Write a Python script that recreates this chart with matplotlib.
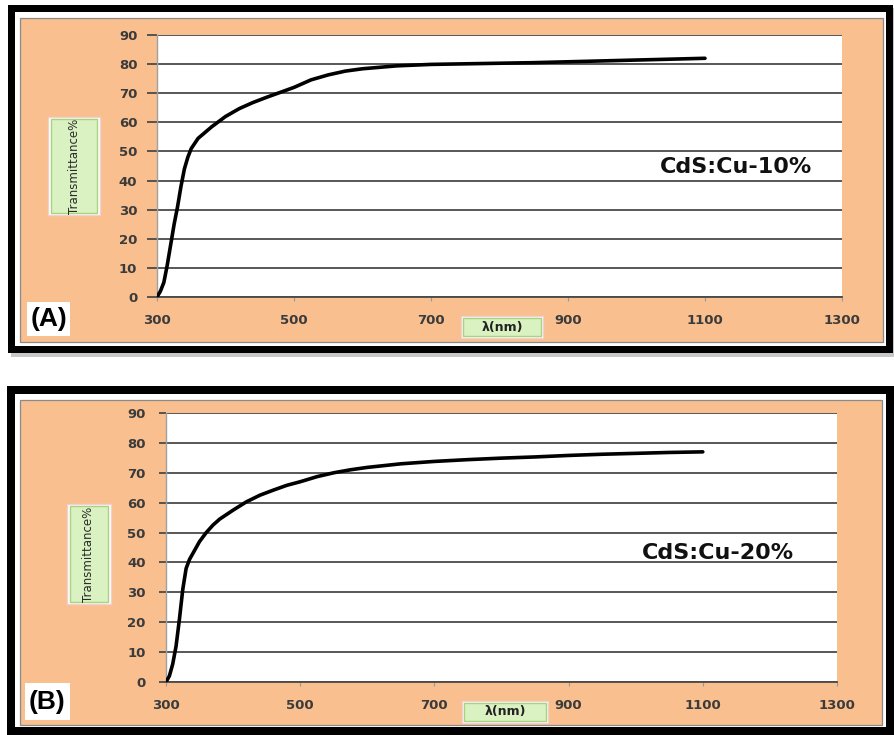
"""
Optical transmittance spectra of CdS:Cu thin films (10% and 20% Cu)
"""
import matplotlib
matplotlib.use('Agg')
import matplotlib.pyplot as plt
from matplotlib.patches import Rectangle

# Wavelength (nm) / transmittance (%) for CdS:Cu-10%
wl_a = [300, 305, 310, 315, 320, 325, 330, 335, 340, 345, 350, 360, 370, 380,
        400, 420, 440, 460, 480, 500, 525, 550, 575, 600, 650, 700, 750, 800,
        850, 900, 950, 1000, 1050, 1100]
tr_a = [0, 2, 5, 11, 18, 25, 31, 38, 44, 48, 51, 54.5, 56.5, 58.5,
        62, 64.7, 66.8, 68.6, 70.3, 72, 74.6, 76.3, 77.6, 78.4, 79.4, 79.9, 80.1, 80.3,
        80.5, 80.8, 81.1, 81.4, 81.7, 82]

# Wavelength (nm) / transmittance (%) for CdS:Cu-20%
wl_b = [300, 305, 310, 315, 320, 325, 330, 335, 340, 350, 360, 370, 380, 400,
        420, 440, 460, 480, 500, 525, 550, 575, 600, 650, 700, 750, 800, 850,
        900, 950, 1000, 1050, 1100]
tr_b = [0, 2, 6, 12, 21, 31, 38, 41, 43, 47, 50, 52.5, 54.5, 57.5,
        60.3, 62.5, 64.2, 65.8, 67, 68.7, 70, 71, 71.8, 73, 73.8, 74.4, 74.9, 75.3,
        75.8, 76.2, 76.5, 76.8, 77]

x_ticks = [300, 500, 700, 900, 1100, 1300]
y_ticks = [0, 10, 20, 30, 40, 50, 60, 70, 80, 90]
labels = ['CdS:Cu-10%', 'CdS:Cu-20%']
panel_tags = ['(A)', '(B)']

ORANGE = '#f9bf8f'
GRID = '#4a4a4a'
TICK_TXT = '#3b3b3b'

W, H = 894, 735
fig = plt.figure(figsize=(W / 100, H / 100), dpi=100)
fig.patch.set_facecolor('white')


def frect(x0, y0, x1, y1):
    """Pixel box (top-left origin) -> figure fraction rect"""
    return (x0 / W, 1 - y1 / H, (x1 - x0) / W, (y1 - y0) / H)


def add_box(x0, y0, x1, y1, **kw):
    l, b, w, h = frect(x0, y0, x1, y1)
    fig.add_artist(Rectangle((l, b), w, h, transform=fig.transFigure, **kw))


def draw_frame(outer, thick, inner):
    # frame sits below the axes (negative zorder)
    x0, y0, x1, y1 = outer
    add_box(x0 + 3, y0 + 3, x1 + 3, y1 + 4, facecolor='#c8c8c8', edgecolor='none', zorder=-4)
    add_box(x0, y0, x1, y1, facecolor='black', edgecolor='none', zorder=-3)
    add_box(x0 + thick, y0 + thick, x1 - thick, y1 - thick,
            facecolor='white', edgecolor='none', zorder=-2)
    add_box(*inner, facecolor=ORANGE, edgecolor='#8a8a8a', linewidth=0.9, zorder=-1)


def draw_panel(ax_box, wl, tr, label, tag, tick_len, tick_pad, ylab_box, xlab_box, tag_box, label_xy):
    ax = fig.add_axes(frect(*ax_box))
    ax.set_zorder(1)
    ax.set_facecolor('white')
    ax.plot(wl, tr, color='black', linewidth=2.6, solid_capstyle='round', zorder=3)

    ax.set_xlim(300, 1300)
    ax.set_ylim(0, 90)
    ax.set_xticks(x_ticks)
    ax.set_yticks(y_ticks)
    ax.yaxis.grid(True, color=GRID, linewidth=1.3)
    ax.set_axisbelow(True)

    for s in ['top', 'right']:
        ax.spines[s].set_visible(False)
    ax.spines['left'].set_color('#a0a0a0')
    ax.spines['left'].set_linewidth(1.0)
    ax.spines['bottom'].set_color(GRID)
    ax.spines['bottom'].set_linewidth(1.3)

    ax.tick_params(axis='y', direction='out', length=tick_len, width=1.3, color=GRID,
                   pad=tick_pad, labelsize=9.5, labelcolor=TICK_TXT)
    ax.tick_params(axis='x', direction='out', length=3, width=0.8, color='#9a9a9a',
                   pad=9, labelsize=9.5, labelcolor=TICK_TXT)
    for t in ax.get_xticklabels() + ax.get_yticklabels():
        t.set_fontweight('bold')

    ax.text(label_xy[0], label_xy[1], label, transform=ax.transAxes, ha='center', va='center',
            fontsize=16, fontweight='bold', color='#111111')

    # y-axis title box
    x0, y0, x1, y1 = ylab_box
    add_box(x0, y0, x1, y1, facecolor='white', edgecolor='#f1d0d0', linewidth=1, zorder=4)
    add_box(x0 + 3, y0 + 2, x1 - 3, y1 - 2, facecolor='#daf2c2', edgecolor='#a9d47f',
            linewidth=1, zorder=5)
    fig.text((x0 + x1) / 2 / W, 1 - (y0 + y1) / 2 / H, 'Transmittance%', rotation=90,
             ha='center', va='center', fontsize=8.5, color='#2a2a2a', zorder=6)

    # x-axis title box
    x0, y0, x1, y1 = xlab_box
    add_box(x0, y0, x1, y1, facecolor='white', edgecolor='#f1d0d0', linewidth=1, zorder=4)
    add_box(x0 + 2, y0 + 2, x1 - 2, y1 - 2, facecolor='#daf2c2', edgecolor='#a9d47f',
            linewidth=1, zorder=5)
    fig.text((x0 + x1) / 2 / W, 1 - (y0 + y1) / 2 / H, 'λ(nm)', ha='center', va='center',
             fontsize=9, fontweight='bold', color='#222222', zorder=6)

    # panel tag
    x0, y0, x1, y1 = tag_box
    add_box(x0, y0, x1, y1, facecolor='white', edgecolor='none', zorder=4)
    fig.text((x0 + x1) / 2 / W, 1 - (y0 + y1) / 2 / H, tag, ha='center', va='center',
             fontsize=19, fontweight='bold', color='black', family='Liberation Sans', zorder=6)
    return ax


# panel (A)
draw_frame((8, 5, 893, 353), 7, (20, 18, 883, 342))
draw_panel((157, 35, 842, 297), wl_a, tr_a, labels[0], panel_tags[0],
           tick_len=7.2, tick_pad=7, ylab_box=(48, 117, 100, 215),
           xlab_box=(461, 316, 543, 338), tag_box=(27, 302, 70, 336), label_xy=(0.845, 0.497))

# panel (B)
draw_frame((7, 386, 894, 735), 8, (20, 400, 882, 725))
draw_panel((166, 413, 837, 682), wl_b, tr_b, labels[1], panel_tags[1],
           tick_len=5, tick_pad=9.5, ylab_box=(67, 504, 111, 604),
           xlab_box=(462, 701, 548, 723), tag_box=(25, 683, 70, 720), label_xy=(0.823, 0.48))

fig.savefig('out.png', dpi=100, facecolor=fig.get_facecolor())
plt.close(fig)
